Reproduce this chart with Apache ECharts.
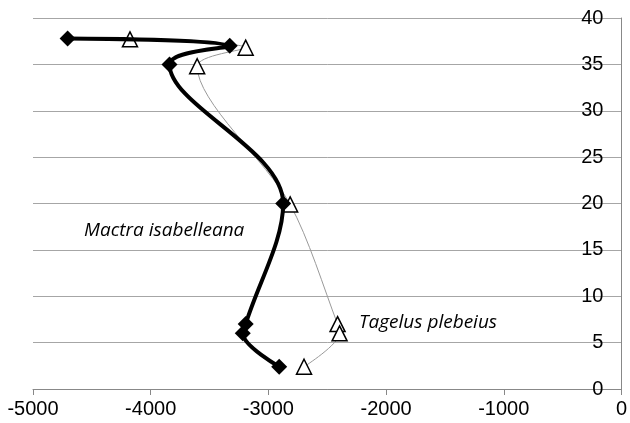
<!DOCTYPE html>
<html><head><meta charset="utf-8">
<script src="https://cdn.jsdelivr.net/npm/echarts@6/dist/echarts.min.js"></script>
<style>html,body{margin:0;padding:0;background:#fff}#c{width:630px;height:423px}</style>
</head><body><div id="c"></div>
<script>
const mactraX = [-4706, -3328, -3840, -2874, -3193, -3218, -2908];
const mactraY = [37.8, 37, 35, 20, 7, 6, 2.4];
const tagelusX = [-4176, -3193, -3605, -2815, -2412, -2395, -2697];
const tagelusY = [37.7, 36.8, 34.8, 19.9, 7, 6, 2.4];
const xTicks = [-5000, -4000, -3000, -2000, -1000, 0];
const yTicks = [0, 5, 10, 15, 20, 25, 30, 35, 40];
const seriesNames = ['Mactra isabelleana', 'Tagelus plebeius'];

const chart = echarts.init(document.getElementById('c'));
const font = 'Liberation Sans, Arial, sans-serif';
chart.setOption({
  animation: false,
  grid: {left: 33, right: 2, top: 18, bottom: 34},
  xAxis: {
    type: 'value', min: xTicks[0], max: xTicks[xTicks.length-1], interval: 1000,
    axisLine: {show: true, onZero: false, lineStyle: {color: '#888', width: 1}},
    axisTick: {show: true, length: 6, lineStyle: {color: '#888'}},
    axisLabel: {color: '#000', fontSize: 20, fontFamily: font, margin: 10, formatter: v => String(v)},
    splitLine: {show: false}
  },
  yAxis: {
    type: 'value', position: 'right', min: yTicks[0], max: yTicks[yTicks.length-1], interval: 5,
    axisLine: {show: true, lineStyle: {color: '#888', width: 1}},
    axisTick: {show: false},
    axisLabel: {inside: true, color: '#000', fontSize: 20, fontFamily: font, margin: 18, formatter: v => String(v)},
    splitLine: {show: true, lineStyle: {color: '#a6a6a6', width: 1}}
  },
  series: [
    {
      name: seriesNames[1], type: 'line', smooth: 0.3,
      data: tagelusX.map((x, i) => [x, tagelusY[i]]),
      symbol: 'triangle', symbolSize: 15,
      itemStyle: {color: '#fff', borderColor: '#000', borderWidth: 1.5},
      lineStyle: {color: '#999', width: 1}, z: 2
    },
    {
      name: seriesNames[0], type: 'line', smooth: 0.35,
      data: mactraX.map((x, i) => [x, mactraY[i]]),
      symbol: 'diamond', symbolSize: 16,
      itemStyle: {color: '#000', borderColor: '#000', borderWidth: 0},
      lineStyle: {color: '#000', width: 4}, z: 3
    }
  ],
  graphic: [
    {type: 'text', x: 84, y: 231, style: {text: seriesNames[0], font: 'italic 19px "Open Sans", sans-serif', fill: '#000', verticalAlign: 'middle'}},
    {type: 'text', x: 359, y: 323, style: {text: seriesNames[1], font: 'italic 19px "Open Sans", sans-serif', fill: '#000', verticalAlign: 'middle'}}
  ]
});
</script></body></html>
